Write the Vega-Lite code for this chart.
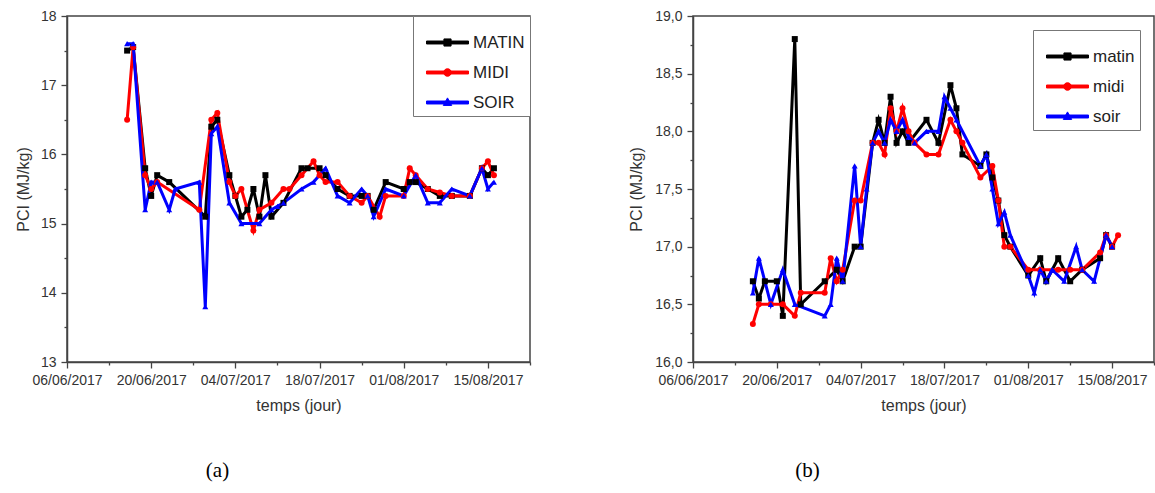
{
  "$schema": "https://vega.github.io/schema/vega-lite/v6.json",
  "background": "white",
  "padding": {"left": 14, "top": 8, "right": 2, "bottom": 5},
  "spacing": 96,
  "config": {
    "view": {"stroke": "#444", "strokeWidth": 1.5},
    "axis": {
      "grid": false,
      "domainColor": "#444",
      "domainWidth": 1.5,
      "tickColor": "#444",
      "tickWidth": 1.3,
      "labelFont": "Liberation Sans",
      "labelFontSize": 14,
      "labelColor": "#333",
      "labelOverlap": false,
      "labelFlush": false,
      "titleFont": "Liberation Sans",
      "titleFontSize": 16,
      "titleFontWeight": "normal",
      "titleColor": "#333"
    },
    "legend": {
      "labelFont": "Liberation Sans",
      "labelFontSize": 17,
      "labelColor": "#222",
      "strokeColor": "#777",
      "fillColor": "white",
      "padding": 5,
      "rowPadding": -7,
      "symbolOffset": 8,
      "labelOffset": 4,
      "symbolSize": 1764,
      "symbolStrokeWidth": 1
    }
  },
  "datasets": {
    "a": [
      {"s":"MATIN","d":"2017-06-16","v":17.5},{"s":"MATIN","d":"2017-06-17","v":17.55},{"s":"MATIN","d":"2017-06-19","v":15.8},{"s":"MATIN","d":"2017-06-20","v":15.4},{"s":"MATIN","d":"2017-06-21","v":15.7},{"s":"MATIN","d":"2017-06-23","v":15.6},{"s":"MATIN","d":"2017-06-29","v":15.1},{"s":"MATIN","d":"2017-06-30","v":16.4},{"s":"MATIN","d":"2017-07-01","v":16.5},{"s":"MATIN","d":"2017-07-03","v":15.7},{"s":"MATIN","d":"2017-07-04","v":15.4},{"s":"MATIN","d":"2017-07-05","v":15.1},{"s":"MATIN","d":"2017-07-06","v":15.2},{"s":"MATIN","d":"2017-07-07","v":15.5},{"s":"MATIN","d":"2017-07-08","v":15.1},{"s":"MATIN","d":"2017-07-09","v":15.7},{"s":"MATIN","d":"2017-07-10","v":15.1},{"s":"MATIN","d":"2017-07-12","v":15.3},{"s":"MATIN","d":"2017-07-15","v":15.8},{"s":"MATIN","d":"2017-07-16","v":15.8},{"s":"MATIN","d":"2017-07-18","v":15.8},{"s":"MATIN","d":"2017-07-19","v":15.7},{"s":"MATIN","d":"2017-07-21","v":15.5},{"s":"MATIN","d":"2017-07-23","v":15.4},{"s":"MATIN","d":"2017-07-25","v":15.4},{"s":"MATIN","d":"2017-07-26","v":15.4},{"s":"MATIN","d":"2017-07-27","v":15.2},{"s":"MATIN","d":"2017-07-29","v":15.6},{"s":"MATIN","d":"2017-08-01","v":15.5},{"s":"MATIN","d":"2017-08-02","v":15.6},{"s":"MATIN","d":"2017-08-03","v":15.6},{"s":"MATIN","d":"2017-08-05","v":15.5},{"s":"MATIN","d":"2017-08-07","v":15.4},{"s":"MATIN","d":"2017-08-09","v":15.4},{"s":"MATIN","d":"2017-08-12","v":15.4},{"s":"MATIN","d":"2017-08-14","v":15.8},{"s":"MATIN","d":"2017-08-15","v":15.7},{"s":"MATIN","d":"2017-08-16","v":15.8},
      {"s":"MIDI","d":"2017-06-16","v":16.5},{"s":"MIDI","d":"2017-06-17","v":17.55},{"s":"MIDI","d":"2017-06-19","v":15.7},{"s":"MIDI","d":"2017-06-20","v":15.5},{"s":"MIDI","d":"2017-06-21","v":15.6},{"s":"MIDI","d":"2017-06-28","v":15.2},{"s":"MIDI","d":"2017-06-30","v":16.5},{"s":"MIDI","d":"2017-07-01","v":16.6},{"s":"MIDI","d":"2017-07-03","v":15.6},{"s":"MIDI","d":"2017-07-04","v":15.4},{"s":"MIDI","d":"2017-07-05","v":15.5},{"s":"MIDI","d":"2017-07-07","v":14.9},{"s":"MIDI","d":"2017-07-08","v":15.2},{"s":"MIDI","d":"2017-07-10","v":15.3},{"s":"MIDI","d":"2017-07-12","v":15.5},{"s":"MIDI","d":"2017-07-13","v":15.5},{"s":"MIDI","d":"2017-07-15","v":15.7},{"s":"MIDI","d":"2017-07-17","v":15.9},{"s":"MIDI","d":"2017-07-18","v":15.7},{"s":"MIDI","d":"2017-07-19","v":15.6},{"s":"MIDI","d":"2017-07-21","v":15.6},{"s":"MIDI","d":"2017-07-23","v":15.4},{"s":"MIDI","d":"2017-07-25","v":15.3},{"s":"MIDI","d":"2017-07-26","v":15.4},{"s":"MIDI","d":"2017-07-28","v":15.1},{"s":"MIDI","d":"2017-07-29","v":15.4},{"s":"MIDI","d":"2017-08-01","v":15.4},{"s":"MIDI","d":"2017-08-02","v":15.8},{"s":"MIDI","d":"2017-08-03","v":15.7},{"s":"MIDI","d":"2017-08-05","v":15.5},{"s":"MIDI","d":"2017-08-07","v":15.45},{"s":"MIDI","d":"2017-08-09","v":15.4},{"s":"MIDI","d":"2017-08-12","v":15.4},{"s":"MIDI","d":"2017-08-14","v":15.8},{"s":"MIDI","d":"2017-08-15","v":15.9},{"s":"MIDI","d":"2017-08-16","v":15.7},
      {"s":"SOIR","d":"2017-06-16","v":17.6},{"s":"SOIR","d":"2017-06-17","v":17.6},{"s":"SOIR","d":"2017-06-19","v":15.2},{"s":"SOIR","d":"2017-06-20","v":15.6},{"s":"SOIR","d":"2017-06-21","v":15.6},{"s":"SOIR","d":"2017-06-23","v":15.2},{"s":"SOIR","d":"2017-06-24","v":15.5},{"s":"SOIR","d":"2017-06-28","v":15.6},{"s":"SOIR","d":"2017-06-29","v":13.8},{"s":"SOIR","d":"2017-06-30","v":16.3},{"s":"SOIR","d":"2017-07-01","v":16.4},{"s":"SOIR","d":"2017-07-03","v":15.3},{"s":"SOIR","d":"2017-07-05","v":15.0},{"s":"SOIR","d":"2017-07-08","v":15.0},{"s":"SOIR","d":"2017-07-10","v":15.2},{"s":"SOIR","d":"2017-07-11","v":15.25},{"s":"SOIR","d":"2017-07-12","v":15.3},{"s":"SOIR","d":"2017-07-15","v":15.5},{"s":"SOIR","d":"2017-07-17","v":15.6},{"s":"SOIR","d":"2017-07-19","v":15.8},{"s":"SOIR","d":"2017-07-21","v":15.4},{"s":"SOIR","d":"2017-07-23","v":15.3},{"s":"SOIR","d":"2017-07-25","v":15.5},{"s":"SOIR","d":"2017-07-26","v":15.4},{"s":"SOIR","d":"2017-07-27","v":15.1},{"s":"SOIR","d":"2017-07-29","v":15.5},{"s":"SOIR","d":"2017-08-01","v":15.4},{"s":"SOIR","d":"2017-08-03","v":15.7},{"s":"SOIR","d":"2017-08-05","v":15.3},{"s":"SOIR","d":"2017-08-07","v":15.3},{"s":"SOIR","d":"2017-08-09","v":15.5},{"s":"SOIR","d":"2017-08-12","v":15.4},{"s":"SOIR","d":"2017-08-14","v":15.8},{"s":"SOIR","d":"2017-08-15","v":15.5},{"s":"SOIR","d":"2017-08-16","v":15.6}
    ],
    "b": [
      {"s":"matin","d":"2017-06-16","v":16.7},{"s":"matin","d":"2017-06-17","v":16.55},{"s":"matin","d":"2017-06-18","v":16.7},{"s":"matin","d":"2017-06-20","v":16.7},{"s":"matin","d":"2017-06-21","v":16.4},{"s":"matin","d":"2017-06-23","v":18.8},{"s":"matin","d":"2017-06-24","v":16.5},{"s":"matin","d":"2017-06-28","v":16.7},{"s":"matin","d":"2017-06-30","v":16.8},{"s":"matin","d":"2017-07-01","v":16.7},{"s":"matin","d":"2017-07-03","v":17.0},{"s":"matin","d":"2017-07-04","v":17.0},{"s":"matin","d":"2017-07-06","v":17.9},{"s":"matin","d":"2017-07-07","v":18.1},{"s":"matin","d":"2017-07-08","v":17.9},{"s":"matin","d":"2017-07-09","v":18.3},{"s":"matin","d":"2017-07-10","v":17.9},{"s":"matin","d":"2017-07-11","v":18.0},{"s":"matin","d":"2017-07-12","v":17.9},{"s":"matin","d":"2017-07-15","v":18.1},{"s":"matin","d":"2017-07-17","v":17.9},{"s":"matin","d":"2017-07-19","v":18.4},{"s":"matin","d":"2017-07-20","v":18.2},{"s":"matin","d":"2017-07-21","v":17.8},{"s":"matin","d":"2017-07-24","v":17.7},{"s":"matin","d":"2017-07-25","v":17.8},{"s":"matin","d":"2017-07-26","v":17.6},{"s":"matin","d":"2017-07-27","v":17.4},{"s":"matin","d":"2017-07-28","v":17.1},{"s":"matin","d":"2017-07-29","v":17.0},{"s":"matin","d":"2017-08-01","v":16.75},{"s":"matin","d":"2017-08-03","v":16.9},{"s":"matin","d":"2017-08-04","v":16.7},{"s":"matin","d":"2017-08-06","v":16.9},{"s":"matin","d":"2017-08-08","v":16.7},{"s":"matin","d":"2017-08-10","v":16.8},{"s":"matin","d":"2017-08-13","v":16.9},{"s":"matin","d":"2017-08-14","v":17.1},{"s":"matin","d":"2017-08-15","v":17.0},
      {"s":"midi","d":"2017-06-16","v":16.33},{"s":"midi","d":"2017-06-17","v":16.5},{"s":"midi","d":"2017-06-19","v":16.5},{"s":"midi","d":"2017-06-21","v":16.5},{"s":"midi","d":"2017-06-23","v":16.4},{"s":"midi","d":"2017-06-24","v":16.6},{"s":"midi","d":"2017-06-28","v":16.6},{"s":"midi","d":"2017-06-29","v":16.9},{"s":"midi","d":"2017-06-30","v":16.7},{"s":"midi","d":"2017-07-01","v":16.8},{"s":"midi","d":"2017-07-03","v":17.4},{"s":"midi","d":"2017-07-04","v":17.4},{"s":"midi","d":"2017-07-06","v":17.9},{"s":"midi","d":"2017-07-07","v":17.9},{"s":"midi","d":"2017-07-08","v":17.8},{"s":"midi","d":"2017-07-09","v":18.2},{"s":"midi","d":"2017-07-10","v":18.0},{"s":"midi","d":"2017-07-11","v":18.2},{"s":"midi","d":"2017-07-12","v":18.0},{"s":"midi","d":"2017-07-13","v":17.9},{"s":"midi","d":"2017-07-15","v":17.8},{"s":"midi","d":"2017-07-17","v":17.8},{"s":"midi","d":"2017-07-19","v":18.1},{"s":"midi","d":"2017-07-20","v":18.0},{"s":"midi","d":"2017-07-21","v":17.9},{"s":"midi","d":"2017-07-24","v":17.6},{"s":"midi","d":"2017-07-26","v":17.7},{"s":"midi","d":"2017-07-27","v":17.4},{"s":"midi","d":"2017-07-28","v":17.0},{"s":"midi","d":"2017-07-29","v":17.0},{"s":"midi","d":"2017-08-01","v":16.8},{"s":"midi","d":"2017-08-03","v":16.8},{"s":"midi","d":"2017-08-06","v":16.8},{"s":"midi","d":"2017-08-08","v":16.8},{"s":"midi","d":"2017-08-10","v":16.8},{"s":"midi","d":"2017-08-13","v":16.95},{"s":"midi","d":"2017-08-14","v":17.1},{"s":"midi","d":"2017-08-15","v":17.0},{"s":"midi","d":"2017-08-16","v":17.1},
      {"s":"soir","d":"2017-06-16","v":16.6},{"s":"soir","d":"2017-06-17","v":16.9},{"s":"soir","d":"2017-06-19","v":16.5},{"s":"soir","d":"2017-06-21","v":16.8},{"s":"soir","d":"2017-06-23","v":16.5},{"s":"soir","d":"2017-06-28","v":16.4},{"s":"soir","d":"2017-06-29","v":16.5},{"s":"soir","d":"2017-06-30","v":16.9},{"s":"soir","d":"2017-07-01","v":16.7},{"s":"soir","d":"2017-07-03","v":17.7},{"s":"soir","d":"2017-07-04","v":17.0},{"s":"soir","d":"2017-07-05","v":17.5},{"s":"soir","d":"2017-07-06","v":17.9},{"s":"soir","d":"2017-07-07","v":18.0},{"s":"soir","d":"2017-07-08","v":17.9},{"s":"soir","d":"2017-07-09","v":18.1},{"s":"soir","d":"2017-07-10","v":18.0},{"s":"soir","d":"2017-07-11","v":18.1},{"s":"soir","d":"2017-07-12","v":17.95},{"s":"soir","d":"2017-07-13","v":17.9},{"s":"soir","d":"2017-07-15","v":18.0},{"s":"soir","d":"2017-07-17","v":18.0},{"s":"soir","d":"2017-07-18","v":18.3},{"s":"soir","d":"2017-07-19","v":18.2},{"s":"soir","d":"2017-07-20","v":18.1},{"s":"soir","d":"2017-07-24","v":17.7},{"s":"soir","d":"2017-07-25","v":17.8},{"s":"soir","d":"2017-07-26","v":17.5},{"s":"soir","d":"2017-07-27","v":17.2},{"s":"soir","d":"2017-07-28","v":17.3},{"s":"soir","d":"2017-07-29","v":17.1},{"s":"soir","d":"2017-08-01","v":16.75},{"s":"soir","d":"2017-08-02","v":16.6},{"s":"soir","d":"2017-08-03","v":16.8},{"s":"soir","d":"2017-08-04","v":16.7},{"s":"soir","d":"2017-08-05","v":16.8},{"s":"soir","d":"2017-08-07","v":16.7},{"s":"soir","d":"2017-08-09","v":17.0},{"s":"soir","d":"2017-08-10","v":16.8},{"s":"soir","d":"2017-08-12","v":16.7},{"s":"soir","d":"2017-08-14","v":17.1},{"s":"soir","d":"2017-08-15","v":17.0}
    ]
  },
  "resolve": {"scale": {"color": "independent", "shape": "independent"}},
  "hconcat": [
    {
      "width": 463,
      "height": 346,
      "data": {"name": "a"},
      "title": {"text": "(a)", "orient": "bottom", "font": "Liberation Serif", "fontSize": 21, "fontWeight": "normal", "color": "black", "offset": 47, "dx": -81},
      "encoding": {
        "x": {"field": "d", "type": "temporal",
          "scale": {"type": "utc", "domain": [{"year": 2017, "month": 6, "date": 6, "utc": true}, {"year": 2017, "month": 8, "date": 22, "utc": true}]},
          "axis": {"title": "temps (jour)", "titlePadding": 10, "labelPadding": 5,
            "values": [{"year":2017,"month":6,"date":6,"utc":true},{"year":2017,"month":6,"date":13,"utc":true},{"year":2017,"month":6,"date":20,"utc":true},{"year":2017,"month":6,"date":27,"utc":true},{"year":2017,"month":7,"date":4,"utc":true},{"year":2017,"month":7,"date":11,"utc":true},{"year":2017,"month":7,"date":18,"utc":true},{"year":2017,"month":7,"date":25,"utc":true},{"year":2017,"month":8,"date":1,"utc":true},{"year":2017,"month":8,"date":8,"utc":true},{"year":2017,"month":8,"date":15,"utc":true},{"year":2017,"month":8,"date":22,"utc":true}],
            "labelExpr": "((datum.value - utc(2017,5,6))/86400000) % 14 === 0 ? utcFormat(datum.value, '%d/%m/%Y') : ''",
            "tickSize": {"condition": {"test": "((datum.value - utc(2017,5,6))/86400000) % 14 === 0", "value": 6}, "value": 3}}},
        "y": {"field": "v", "type": "quantitative",
          "scale": {"domain": [13, 18]},
          "axis": {"title": "PCI (MJ/kg)", "titlePadding": 9, "labelPadding": 5,
            "values": [13, 13.5, 14, 14.5, 15, 15.5, 16, 16.5, 17, 17.5, 18],
            "labelExpr": "datum.value % 1 === 0 ? format(datum.value, 'd') : ''",
            "tickSize": {"condition": {"test": "datum.value % 1 === 0", "value": 6}, "value": 3}}},
        "color": {"field": "s", "type": "nominal",
          "scale": {"domain": ["MATIN", "MIDI", "SOIR"], "range": ["#000000", "#ff0000", "#0000ff"]},
          "legend": {"title": null, "orient": "top-right", "offset": 0,
            "encode": {"symbols": {"update": {
              "shape": {"signal": "(datum.value === 'MATIN' || datum.value === 'matin') ? 'M-1,-0.07H1V0.07H-1ZM-0.17,-0.17H0.17V0.17H-0.17Z' : (datum.value === 'MIDI' || datum.value === 'midi') ? 'M-1,-0.07H1V0.07H-1ZM0.18,0A0.18,0.18 0 1,1 -0.18,0A0.18,0.18 0 1,1 0.18,0Z' : 'M-1,-0.07H1V0.07H-1ZM0,-0.22L0.2,0.14H-0.2Z'"},
              "fill": {"signal": "(datum.value === 'MATIN' || datum.value === 'matin') ? '#000000' : (datum.value === 'MIDI' || datum.value === 'midi') ? '#ff0000' : '#0000ff'"},
              "stroke": {"signal": "(datum.value === 'MATIN' || datum.value === 'matin') ? '#000000' : (datum.value === 'MIDI' || datum.value === 'midi') ? '#ff0000' : '#0000ff'"},
              "strokeWidth": {"value": 1},
              "opacity": {"value": 1}
            }}}}}
      },
      "layer": [
        {"mark": {"type": "line", "strokeWidth": 3}},
        {
          "mark": {"type": "point", "filled": true, "size": 36, "opacity": 1},
          "encoding": {
            "shape": {"field": "s", "type": "nominal",
              "scale": {"domain": ["SOIR", "MIDI", "MATIN"], "range": ["triangle-up", "circle", "square"]},
              "legend": null}
          }
        }
      ]
    },
    {
      "width": 461,
      "height": 346,
      "data": {"name": "b"},
      "title": {"text": "(b)", "orient": "bottom", "font": "Liberation Serif", "fontSize": 21, "fontWeight": "normal", "color": "black", "offset": 47, "dx": -116},
      "encoding": {
        "x": {"field": "d", "type": "temporal",
          "scale": {"type": "utc", "domain": [{"year": 2017, "month": 6, "date": 6, "utc": true}, {"year": 2017, "month": 8, "date": 22, "utc": true}]},
          "axis": {"title": "temps (jour)", "titlePadding": 10, "labelPadding": 5,
            "values": [{"year":2017,"month":6,"date":6,"utc":true},{"year":2017,"month":6,"date":13,"utc":true},{"year":2017,"month":6,"date":20,"utc":true},{"year":2017,"month":6,"date":27,"utc":true},{"year":2017,"month":7,"date":4,"utc":true},{"year":2017,"month":7,"date":11,"utc":true},{"year":2017,"month":7,"date":18,"utc":true},{"year":2017,"month":7,"date":25,"utc":true},{"year":2017,"month":8,"date":1,"utc":true},{"year":2017,"month":8,"date":8,"utc":true},{"year":2017,"month":8,"date":15,"utc":true},{"year":2017,"month":8,"date":22,"utc":true}],
            "labelExpr": "((datum.value - utc(2017,5,6))/86400000) % 14 === 0 ? utcFormat(datum.value, '%d/%m/%Y') : ''",
            "tickSize": {"condition": {"test": "((datum.value - utc(2017,5,6))/86400000) % 14 === 0", "value": 6}, "value": 3}}},
        "y": {"field": "v", "type": "quantitative",
          "scale": {"domain": [16, 19]},
          "axis": {"title": "PCI (MJ/kg)", "titlePadding": 10, "labelPadding": 5,
            "values": [16, 16.25, 16.5, 16.75, 17, 17.25, 17.5, 17.75, 18, 18.25, 18.5, 18.75, 19],
            "labelExpr": "datum.value % 0.5 === 0 ? replace(format(datum.value, '.1f'), '.', ',') : ''",
            "tickSize": {"condition": {"test": "datum.value % 0.5 === 0", "value": 6}, "value": 3}}},
        "color": {"field": "s", "type": "nominal",
          "scale": {"domain": ["matin", "midi", "soir"], "range": ["#000000", "#ff0000", "#0000ff"]},
          "legend": {"title": null, "orient": "top-right", "offset": 14,
            "encode": {"symbols": {"update": {
              "shape": {"signal": "(datum.value === 'MATIN' || datum.value === 'matin') ? 'M-1,-0.07H1V0.07H-1ZM-0.17,-0.17H0.17V0.17H-0.17Z' : (datum.value === 'MIDI' || datum.value === 'midi') ? 'M-1,-0.07H1V0.07H-1ZM0.18,0A0.18,0.18 0 1,1 -0.18,0A0.18,0.18 0 1,1 0.18,0Z' : 'M-1,-0.07H1V0.07H-1ZM0,-0.22L0.2,0.14H-0.2Z'"},
              "fill": {"signal": "(datum.value === 'MATIN' || datum.value === 'matin') ? '#000000' : (datum.value === 'MIDI' || datum.value === 'midi') ? '#ff0000' : '#0000ff'"},
              "stroke": {"signal": "(datum.value === 'MATIN' || datum.value === 'matin') ? '#000000' : (datum.value === 'MIDI' || datum.value === 'midi') ? '#ff0000' : '#0000ff'"},
              "strokeWidth": {"value": 1},
              "opacity": {"value": 1}
            }}}}}
      },
      "layer": [
        {"mark": {"type": "line", "strokeWidth": 3}},
        {
          "mark": {"type": "point", "filled": true, "size": 36, "opacity": 1},
          "encoding": {
            "shape": {"field": "s", "type": "nominal",
              "scale": {"domain": ["soir", "midi", "matin"], "range": ["triangle-up", "circle", "square"]},
              "legend": null}
          }
        }
      ]
    }
  ]
}
